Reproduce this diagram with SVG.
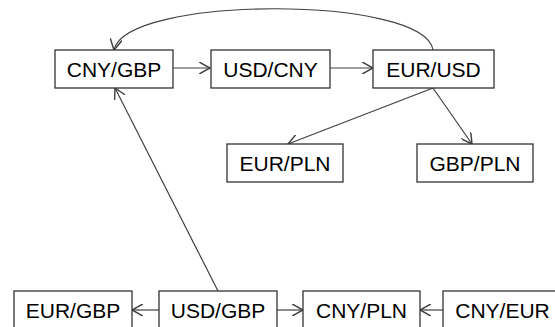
<svg xmlns="http://www.w3.org/2000/svg" width="555" height="327" viewBox="0 0 555 327">
<style>
.box{fill:#fff;stroke:#333;stroke-width:1.3}
.lbl{font-family:"Liberation Sans",Arial,sans-serif;font-size:21px;fill:#000;text-anchor:middle}
.edge{fill:none;stroke:#404040;stroke-width:1.2}
</style>
<defs>
<marker id="arr" markerUnits="userSpaceOnUse" markerWidth="12" markerHeight="12" refX="9" refY="5" orient="auto" viewBox="0 0 10 10">
<path d="M0,0 L9,5 L0,10" fill="none" stroke="#404040" stroke-width="1.2"/>
</marker>
</defs>
<rect width="555" height="327" fill="#fff"/>
<g id="connectors">
<path class="edge" d="M173,68 L210,68" marker-end="url(#arr)"/>
<path class="edge" d="M330,68 L373,68" marker-end="url(#arr)"/>
<path class="edge" d="M433,50 C425,-5 125,-5 114,50" marker-end="url(#arr)"/>
<path class="edge" d="M218,291 L115,88" marker-end="url(#arr)"/>
<path class="edge" d="M433,88 L288,144" marker-end="url(#arr)"/>
<path class="edge" d="M433,88 L472,144" marker-end="url(#arr)"/>
<path class="edge" d="M159,310 L132,310" marker-end="url(#arr)"/>
<path class="edge" d="M277,310 L303,310" marker-end="url(#arr)"/>
<path class="edge" d="M443,310 L420,310" marker-end="url(#arr)"/>
</g>
<g id="CNY_GBP"><rect class="box" x="55" y="50" width="118" height="38"/><text class="lbl" x="114" y="76.5">CNY/GBP</text></g>
<g id="USD_CNY"><rect class="box" x="211" y="50" width="119" height="38"/><text class="lbl" x="270.5" y="76.5">USD/CNY</text></g>
<g id="EUR_USD"><rect class="box" x="373" y="50" width="121" height="38"/><text class="lbl" x="433.5" y="76.5">EUR/USD</text></g>
<g id="EUR_PLN"><rect class="box" x="227" y="144" width="116" height="38"/><text class="lbl" x="285" y="170.5">EUR/PLN</text></g>
<g id="GBP_PLN"><rect class="box" x="417" y="144" width="116" height="38"/><text class="lbl" x="475" y="170.5">GBP/PLN</text></g>
<g id="EUR_GBP"><rect class="box" x="14" y="291" width="118" height="38"/><text class="lbl" x="73" y="317.5">EUR/GBP</text></g>
<g id="USD_GBP"><rect class="box" x="159" y="291" width="118" height="38"/><text class="lbl" x="218" y="317.5">USD/GBP</text></g>
<g id="CNY_PLN"><rect class="box" x="303" y="291" width="117" height="38"/><text class="lbl" x="361.5" y="317.5">CNY/PLN</text></g>
<g id="CNY_EUR"><rect class="box" x="443" y="291" width="119" height="38"/><text class="lbl" x="502.5" y="317.5">CNY/EUR</text></g>
</svg>
